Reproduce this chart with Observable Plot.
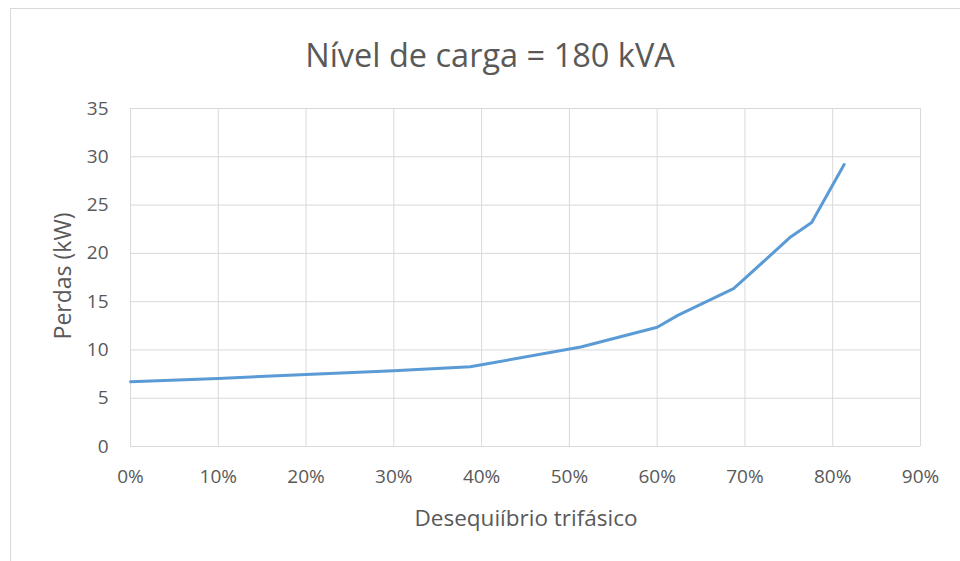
<!DOCTYPE html>
<html>
<head>
<meta charset="utf-8">
<script src="https://cdn.jsdelivr.net/npm/d3@7"></script>
<script src="https://cdn.jsdelivr.net/npm/@observablehq/plot@0.6"></script>
<style>
  html, body { margin: 0; padding: 0; background: #fff; }
  #wrap { position: relative; width: 960px; height: 561px; overflow: hidden; font-family: "Open Sans", sans-serif; color: #595959; }
  #frame { position: absolute; left: 10px; top: 8px; width: 1000px; height: 600px; border: 1px solid #d9d9d9; box-sizing: border-box; }
  #title { position: absolute; left: 0; width: 980px; top: 34px; text-align: center; font-size: 32.5px; line-height: 42px; }
  #xlabel { position: absolute; left: 0; width: 1052px; top: 503px; text-align: center; font-size: 22.5px; line-height: 30px; }
  #ylabel { position: absolute; left: 62px; top: 276px; transform: translate(-50%, -50%) rotate(-90deg); font-size: 23px; line-height: 30px; white-space: nowrap; }
  #chart { position: absolute; left: 0; top: 0; }
</style>
</head>
<body>
<div id="wrap">
  <div id="frame"></div>
  <div id="chart"></div>
  <div id="title">Nível de carga = 180 kVA</div>
  <div id="xlabel">Desequiíbrio trifásico</div>
  <div id="ylabel">Perdas (kW)</div>
</div>
<script>
const unbalance = [0, 10, 20, 30, 38.7, 51.3, 60, 62.4, 68.7, 70, 75.2, 77.6, 81.3];
const losses = [6.7, 7.05, 7.45, 7.85, 8.25, 10.3, 12.35, 13.6, 16.35, 17.4, 21.7, 23.2, 29.2];
const xTicks = [0, 10, 20, 30, 40, 50, 60, 70, 80, 90];
const yTicks = [0, 5, 10, 15, 20, 25, 30, 35];

const data = unbalance.map((u, i) => ({u, p: losses[i]}));

const chart = Plot.plot({
  width: 960,
  height: 561,
  marginLeft: 130,
  marginRight: 40,
  marginTop: 108,
  marginBottom: 115,
  style: {fontFamily: "Open Sans, sans-serif", fontSize: "19px", color: "#595959", background: "transparent", overflow: "visible"},
  x: {domain: [0, 90], ticks: xTicks, tickFormat: d => d + "%"},
  y: {domain: [0, 35], ticks: yTicks},
  marks: [
    Plot.gridX(xTicks, {stroke: "#d9d9d9", strokeOpacity: 1, strokeWidth: 1}),
    Plot.gridY(yTicks, {stroke: "#d9d9d9", strokeOpacity: 1, strokeWidth: 1}),
    Plot.axisX(xTicks, {tickSize: 0, tickPadding: 23, label: null, tickFormat: d => d + "%", fontSize: 19}),
    Plot.axisY(yTicks, {tickSize: 0, tickPadding: 22, label: null, fontSize: 19}),
    Plot.line(data, {x: "u", y: "p", stroke: "#5b9bd5", strokeWidth: 3, strokeLinejoin: "round", strokeLinecap: "round"})
  ]
});
document.getElementById("chart").appendChild(chart);
</script>
</body>
</html>
